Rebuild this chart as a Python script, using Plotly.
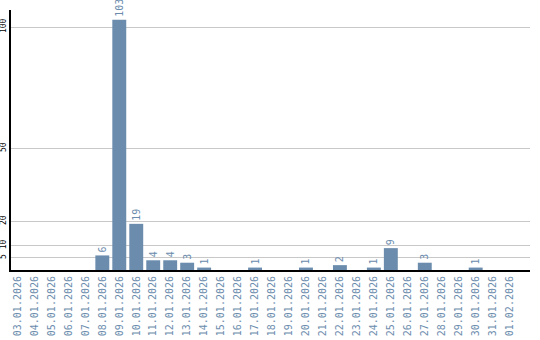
import plotly.graph_objects as go

dates = ["03.01.2026", "04.01.2026", "05.01.2026", "06.01.2026", "07.01.2026",
         "08.01.2026", "09.01.2026", "10.01.2026", "11.01.2026", "12.01.2026",
         "13.01.2026", "14.01.2026", "15.01.2026", "16.01.2026", "17.01.2026",
         "18.01.2026", "19.01.2026", "20.01.2026", "21.01.2026", "22.01.2026",
         "23.01.2026", "24.01.2026", "25.01.2026", "26.01.2026", "27.01.2026",
         "28.01.2026", "29.01.2026", "30.01.2026", "31.01.2026", "01.02.2026"]
values = [0, 0, 0, 0, 0, 6, 103, 19, 4, 4, 3, 1, 0, 0, 1, 0, 0, 1, 0, 2,
          0, 1, 9, 0, 3, 0, 0, 1, 0, 0]
y_ticks = [5, 10, 20, 50, 100]

bar_color = "#6b8cad"
labels = [str(v) if v else "" for v in values]

fig = go.Figure(go.Bar(
    x=dates, y=values, text=labels, textposition="outside", textangle=-90,
    textfont=dict(family="DejaVu Sans Mono", size=10, color=bar_color),
    constraintext="none", cliponaxis=False,
    marker=dict(color=bar_color, line=dict(width=0)),
))

fig.update_layout(
    width=540, height=340,
    margin=dict(l=10.5, r=9.5, t=10, b=70),
    plot_bgcolor="white", paper_bgcolor="white",
    bargap=0.18, showlegend=False,
    xaxis=dict(type="category", range=[-0.38, 30.2], tickangle=-90,
               tickfont=dict(family="DejaVu Sans Mono", size=10, color=bar_color),
               showline=True, linecolor="black", linewidth=2, showgrid=False,
               ticks="", automargin=False),
    yaxis=dict(range=[0, 107], tickvals=y_ticks, tickangle=-90,
               tickfont=dict(family="DejaVu Sans Mono", size=8, color="black"),
               showline=True, linecolor="black", linewidth=2,
               showgrid=True, gridcolor="#c8c8c8", gridwidth=1,
               zeroline=False, ticks="", automargin=False),
)

fig.write_html("out.html")
